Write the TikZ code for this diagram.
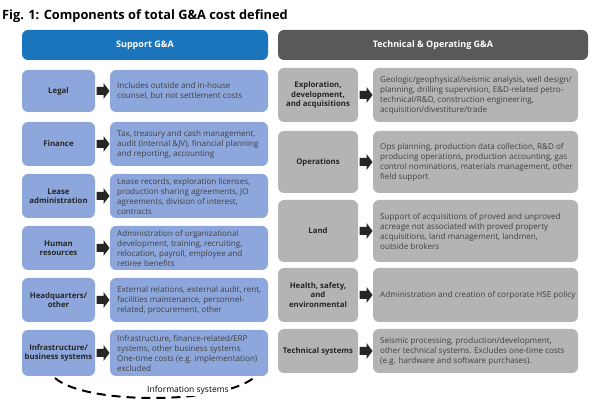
\documentclass[tikz,border=0pt]{standalone}
\usepackage{fontspec}
\setmainfont{Open Sans}
\definecolor{hblue}{HTML}{1B75BC}
\definecolor{lblue}{HTML}{8DA7DC}
\definecolor{hgray}{HTML}{58595B}
\definecolor{lgray}{HTML}{B4B4B4}
\begin{document}
\begin{tikzpicture}[x=1pt,y=-1pt,
 box/.style={rounded corners=6pt,draw=none},
 lab/.style={font=\fontsize{7.8}{9.4}\selectfont\bfseries,align=center,text=black!85},
 desc/.style={font=\fontsize{8.1}{10}\selectfont,align=left,text=black!75,anchor=west,inner sep=0pt},
 arr/.style={inner sep=0pt,minimum size=14pt}]
\useasboundingbox (0,0) rectangle (600,419);
\node[anchor=base west,font=\fontsize{12.8}{15}\selectfont\bfseries,inner sep=0pt] (title) at (2,20) {Fig. 1: Components of total G\&A cost defined};
\fill[hblue,box] (22,30) rectangle (268,60);
\node[text=white,font=\fontsize{9}{11}\selectfont\bfseries] (h1) at (145,45) {Support G\&A};
\fill[hgray,box] (278,30) rectangle (588,60);
\node[text=white,font=\fontsize{9}{11}\selectfont\bfseries] (h2) at (433,45) {Technical \& Operating G\&A};
\tikzset{fatarrow/.pic={\fill[black!85] (-6,-4) -- (1,-4) -- (1,-8) -- (7,0) -- (1,8) -- (1,4) -- (-6,4) -- cycle;}}
% left rows
\foreach \t/\b/\l/\d [count=\i] in {
 70/112/Legal/{Includes outside and in-house\\counsel, but not settlement costs},
 122/166/Finance/{Tax, treasury and cash management,\\audit (internal \&JV), financial planning\\and reporting, accounting},
 174/218/{Lease\\administration}/{Lease records, exploration licenses,\\production sharing agreements, JO\\agreements, division of interest,\\contracts},
 226/270/{Human\\resources}/{Administration of organizational\\development, training, recruiting,\\relocation, payroll, employee and\\retiree benefits},
 278/322/{Headquarters/\\other}/{External relations, external audit, rent,\\facilities maintenance, personnel-\\related, procurement, other},
 330/376/{Infrastructure/\\business systems}/{Infrastructure, finance-related/ERP\\systems, other business systems.\\One-time costs (e.g. implementation)\\excluded}}{
 \fill[lblue,box] (22,\t) rectangle (95,\b);
 \fill[lblue,box] (110,\t) rectangle (268,\b);
 \node[lab] (L\i) at (58.5,{(\t+\b)/2}) {\l};
 \node[desc] (D\i) at (117,{(\t+\b)/2}) {\d};
 \node[arr] (A\i) at (102.5,{(\t+\b)/2}) {};
 \pic at (A\i) {fatarrow};
}
% right rows
\foreach \t/\b/\l/\d [count=\i] in {
 68/122/{Exploration,\\development,\\and acquisitions}/{Geologic/geophysical/seismic analysis, well design/\\planning, drilling supervision, E\&D-related petro-\\technical/R\&D, construction engineering,\\acquisition/divestiture/trade},
 131/193/Operations/{Ops planning, production data collection, R\&D of\\producing operations, production accounting, gas\\control nominations, materials management, other\\field support},
 200/262/Land/{Support of acquisitions of proved and unproved\\acreage not associated with proved property\\acquisitions, land management, landmen,\\outside brokers},
 268/322/{Health, safety,\\and\\environmental}/{Administration and creation of corporate HSE policy},
 329/373/Technical systems/{Seismic processing, production/development,\\other technical systems. Excludes one-time costs\\(e.g. hardware and software purchases).}}{
 \fill[lgray,box] (278,\t) rectangle (358,\b);
 \fill[lgray,box] (373,\t) rectangle (578,\b);
 \node[lab] (R\i) at (318,{(\t+\b)/2}) {\l};
 \node[desc] (E\i) at (380,{(\t+\b)/2}) {\d};
 \node[arr] (B\i) at (365.5,{(\t+\b)/2}) {};
 \pic at (B\i) {fatarrow};
}
\coordinate (s) at (55,378);
\coordinate (e) at (256,376);
\draw[line width=2pt,dash pattern=on 9pt off 6pt] (s) .. controls (85,405) and (225,405) .. (e);
\node[font=\fontsize{8.5}{10}\selectfont,fill=white,inner sep=2pt] (is) at (188,390) {Information systems};
\end{tikzpicture}
\end{document}
